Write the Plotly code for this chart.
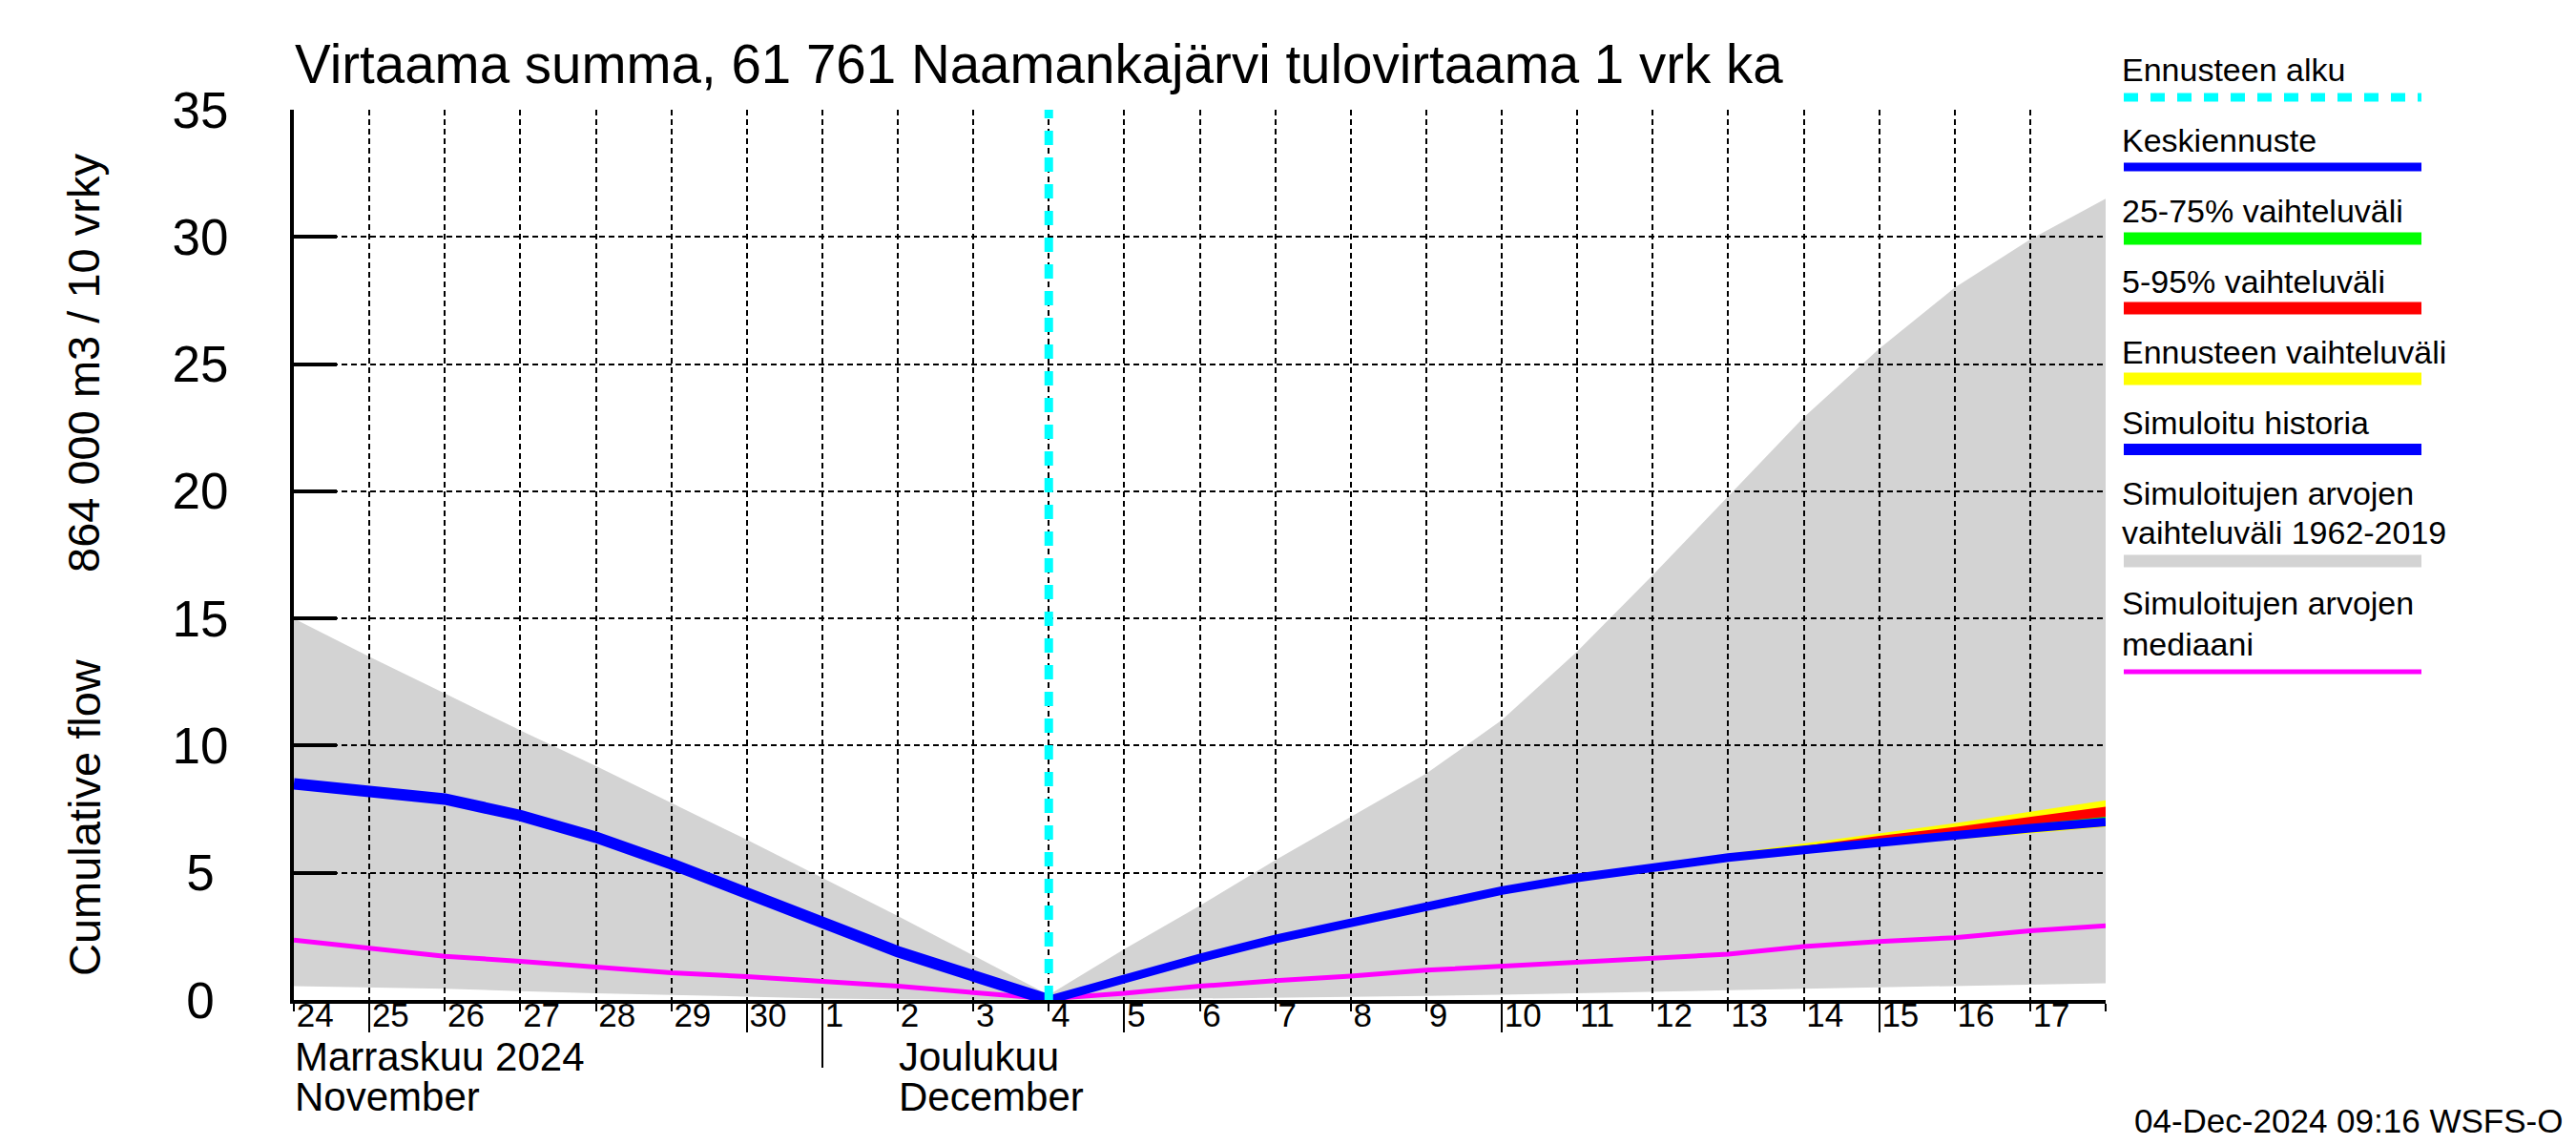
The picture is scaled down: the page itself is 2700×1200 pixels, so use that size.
import plotly.graph_objects as go
import pandas as pd

# ---------------- data ----------------
ALL_DAYS = pd.date_range("2024-11-24", "2024-12-18", freq="D")
HIST_DAYS = pd.date_range("2024-11-24", "2024-12-04", freq="D")
FC_DAYS = pd.date_range("2024-12-04", "2024-12-18", freq="D")
FORECAST_START = pd.Timestamp("2024-12-04")

# simulated range 1962-2019 (grey band) and median
SIM_MAX = [15.0, 13.5, 12.05, 10.6, 9.2, 7.75, 6.3, 4.8, 3.3, 1.75, 0.2,
           2.0, 3.7, 5.5, 7.2, 8.9, 11.0, 13.7, 16.7, 19.8, 22.9, 25.6, 28.0, 29.9, 31.5]
SIM_MIN = [0.54, 0.5, 0.44, 0.35, 0.26, 0.2, 0.13, 0.06, 0.03, 0.01, 0.0,
           0.02, 0.05, 0.08, 0.12, 0.16, 0.21, 0.26, 0.31, 0.38, 0.44, 0.49, 0.54, 0.59, 0.66]
SIM_MEDIAN = [2.35, 2.03, 1.72, 1.52, 1.29, 1.07, 0.92, 0.73, 0.54, 0.29, 0.05,
              0.26, 0.54, 0.76, 0.94, 1.17, 1.32, 1.48, 1.64, 1.8, 2.1, 2.3, 2.45, 2.72, 2.92]

# simulated history
HISTORY = [8.5, 8.25, 7.9, 7.25, 6.4, 5.35, 4.2, 3.0, 1.9, 0.95, 0.0]

# forecast
FC_MEAN = [0, 0.85, 1.65, 2.4, 3.05, 3.7, 4.3, 4.8, 5.2, 5.6, 5.9, 6.2, 6.5, 6.75, 7.0]
FC_MAX = [0, 0.9, 1.7, 2.45, 3.1, 3.75, 4.35, 4.85, 5.3, 5.75, 6.15, 6.55, 6.95, 7.4, 7.85]
FC_MIN = [0, 0.8, 1.6, 2.35, 3.0, 3.65, 4.25, 4.75, 5.15, 5.5, 5.8, 6.05, 6.3, 6.55, 6.8]
FC_P95 = [0, 0.88, 1.68, 2.43, 3.08, 3.73, 4.33, 4.83, 5.25, 5.68, 6.05, 6.45, 6.8, 7.2, 7.6]
FC_P05 = [0, 0.82, 1.62, 2.37, 3.02, 3.67, 4.27, 4.77, 5.17, 5.55, 5.85, 6.12, 6.4, 6.62, 6.85]
FC_P75 = [0, 0.86, 1.66, 2.41, 3.06, 3.71, 4.31, 4.81, 5.22, 5.63, 5.95, 6.28, 6.6, 6.9, 7.2]
FC_P25 = [0, 0.84, 1.64, 2.39, 3.04, 3.69, 4.29, 4.79, 5.18, 5.58, 5.87, 6.16, 6.45, 6.68, 6.92]

Y_TICKS = [0, 5, 10, 15, 20, 25, 30, 35]
Y_TICK_LABELS = ["0\u00a0", "5\u00a0", "10", "15", "20", "25", "30", "35"]
Y_RANGE = [0, 35]
DAY_LABELS = [str(d.day) for d in ALL_DAYS[:-1]] + [""]
LONG_TICK_DAYS = [d for d in ALL_DAYS if d.day % 5 == 0]
MONTH_START_DAYS = [d for d in ALL_DAYS if d.day == 1]

TITLE = "Virtaama summa, 61 761 Naamankajärvi tulovirtaama 1 vrk ka"
YTITLE_A = "Cumulative flow"
YTITLE_B = "864 000 m3 / 10 vrky"
MONTHS = [("Marraskuu 2024", "November", pd.Timestamp("2024-11-24")),
          ("Joulukuu", "December", pd.Timestamp("2024-12-02"))]
STAMP = "04-Dec-2024 09:16 WSFS-O"

LEGEND = [
    (["Ennusteen alku"], "#00ffff", 9, "15px,13px"),
    (["Keskiennuste"], "#0000ff", 9, "solid"),
    (["25-75% vaihteluväli"], "#00ff00", 13, "solid"),
    (["5-95% vaihteluväli"], "#ff0000", 13, "solid"),
    (["Ennusteen vaihteluväli"], "#ffff00", 13, "solid"),
    (["Simuloitu historia"], "#0000ff", 12, "solid"),
    (["Simuloitujen arvojen", "vaihteluväli 1962-2019"], "#d3d3d3", 13, "solid"),
    (["Simuloitujen arvojen", "mediaani"], "#ff00ff", 5, "solid"),
]
LEGEND_TEXT_BASELINES = [[77], [151], [225], [299], [373], [447], [521, 562], [636, 679]]
LEGEND_LINE_Y = [94, 167, 242, 315, 389, 463, 580, 696]

# ---------------- layout geometry ----------------
W, H = 2700, 1200
ML, MR, MT, MB = 300, 501, 107, 160
PW = W - ML - MR
PH = H - MT - MB
FONT = "Liberation Sans, Arial, Helvetica, sans-serif"


def px(xp):
    return (xp - ML) / PW


def py(yp):
    return (H - MB - yp) / PH


fig = go.Figure()

# grey band on base subplot (below grid)
fig.add_trace(go.Scatter(x=ALL_DAYS, y=SIM_MIN, mode="lines", line=dict(width=0, color="rgba(0,0,0,0)"),
                         xaxis="x", yaxis="y", showlegend=False, hoverinfo="skip"))
fig.add_trace(go.Scatter(x=ALL_DAYS, y=SIM_MAX, mode="lines", line=dict(width=0, color="rgba(0,0,0,0)"),
                         fill="tonexty", fillcolor="#d3d3d3",
                         xaxis="x", yaxis="y", showlegend=False, hoverinfo="skip"))


def band(lo, hi, color):
    fig.add_trace(go.Scatter(x=FC_DAYS, y=lo, mode="lines", line=dict(width=0, color="rgba(0,0,0,0)"),
                             xaxis="x2", yaxis="y2", showlegend=False, hoverinfo="skip"))
    fig.add_trace(go.Scatter(x=FC_DAYS, y=hi, mode="lines", line=dict(width=0, color="rgba(0,0,0,0)"),
                             fill="tonexty", fillcolor=color,
                             xaxis="x2", yaxis="y2", showlegend=False, hoverinfo="skip"))


band(FC_MIN, FC_MAX, "#ffff00")
band(FC_P05, FC_P95, "#ff0000")
band(FC_P25, FC_P75, "#00ff00")

fig.add_trace(go.Scatter(x=ALL_DAYS, y=SIM_MEDIAN, mode="lines", line=dict(width=5, color="#ff00ff"),
                         xaxis="x2", yaxis="y2", showlegend=False))
fig.add_trace(go.Scatter(x=HIST_DAYS, y=HISTORY, mode="lines", line=dict(width=12, color="#0000ff"),
                         xaxis="x2", yaxis="y2", showlegend=False))
fig.add_trace(go.Scatter(x=FC_DAYS, y=FC_MEAN, mode="lines", line=dict(width=9, color="#0000ff"),
                         xaxis="x2", yaxis="y2", showlegend=False))

# empty traces to register tick-only overlay axes
fig.add_trace(go.Scatter(x=[], y=[], xaxis="x3", yaxis="y2", showlegend=False, hoverinfo="skip"))
fig.add_trace(go.Scatter(x=[], y=[], xaxis="x4", yaxis="y2", showlegend=False, hoverinfo="skip"))

xr = [ALL_DAYS[0], ALL_DAYS[-1]]
grid = dict(showgrid=True, gridcolor="black", gridwidth=1.6, griddash="6px,4px")

fig.update_layout(
    width=W, height=H,
    margin=dict(l=ML, r=MR, t=MT, b=MB, autoexpand=False),
    paper_bgcolor="white", plot_bgcolor="rgba(0,0,0,0)",
    font=dict(family=FONT, color="black"),
    showlegend=False,
    xaxis=dict(type="date", range=xr, domain=[0, 1], anchor="y", visible=False, fixedrange=True),
    yaxis=dict(range=Y_RANGE, domain=[0, 1], anchor="x", visible=False, fixedrange=True),
    xaxis2=dict(type="date", range=xr, domain=[0, 1], anchor="y2",
                tickmode="array", tickvals=ALL_DAYS, ticktext=DAY_LABELS,
                ticks="outside", ticklen=8, tickwidth=1.5, tickcolor="black",
                ticklabelposition="outside right", ticklabelstandoff=-18,
                tickfont=dict(size=35, family=FONT, color="black"),
                showline=True, linecolor="black", linewidth=4, zeroline=False,
                fixedrange=True, **grid),
    yaxis2=dict(range=Y_RANGE, domain=[0, 1], anchor="x2",
                tickmode="array", tickvals=Y_TICKS, ticktext=Y_TICK_LABELS,
                ticks="inside", ticklen=45, tickwidth=4, tickcolor="black",
                tickfont=dict(size=53, family=FONT, color="black"),
                ticklabelstandoff=54,
                showline=True, linecolor="black", linewidth=4, zeroline=False,
                fixedrange=True, **grid),
    xaxis3=dict(type="date", range=xr, overlaying="x2", anchor="y2",
                tickmode="array", tickvals=LONG_TICK_DAYS, showticklabels=False,
                ticks="outside", ticklen=33, tickwidth=1.5, tickcolor="black",
                showgrid=False, showline=False, zeroline=False, fixedrange=True),
    xaxis4=dict(type="date", range=xr, overlaying="x2", anchor="y2",
                tickmode="array", tickvals=MONTH_START_DAYS, showticklabels=False,
                ticks="outside", ticklen=70, tickwidth=1.5, tickcolor="black",
                showgrid=False, showline=False, zeroline=False, fixedrange=True),
)

# forecast start line
fig.add_shape(type="line", xref="x2", yref="paper", x0=FORECAST_START, x1=FORECAST_START, y0=0, y1=1,
              line=dict(color="#00ffff", width=9, dash="15px,13px"), layer="above")

ann = []
# title
ann.append(dict(text=TITLE, xref="paper", yref="paper", x=px(299), y=py(60), xanchor="left", yanchor="middle",
                showarrow=False, font=dict(size=56.5, family=FONT, color="black")))
# y axis title (two parts)
ann.append(dict(text=YTITLE_A, xref="paper", yref="paper", x=px(80), y=py(849), xanchor="center", yanchor="middle",
                textangle=-90, showarrow=False, font=dict(size=47, family=FONT, color="black")))
ann.append(dict(text=YTITLE_B, xref="paper", yref="paper", x=px(80), y=py(373), xanchor="center", yanchor="middle",
                textangle=-90, showarrow=False, font=dict(size=47, family=FONT, color="black")))
# month labels
for fi, en, d in MONTHS:
    ann.append(dict(text=fi, xref="x2", yref="paper", x=d, y=py(1099), xanchor="left", yanchor="middle",
                    showarrow=False, borderpad=0, font=dict(size=42, family=FONT, color="black")))
    ann.append(dict(text=en, xref="x2", yref="paper", x=d, y=py(1141), xanchor="left", yanchor="middle",
                    showarrow=False, borderpad=0, font=dict(size=42, family=FONT, color="black")))
# timestamp
ann.append(dict(text=STAMP, xref="paper", yref="paper", x=px(2680), y=py(1166), xanchor="right", yanchor="middle",
                showarrow=False, font=dict(size=35, family=FONT, color="black")))

# legend
for (lines, color, width, dash), bases, ly in zip(LEGEND, LEGEND_TEXT_BASELINES, LEGEND_LINE_Y):
    for txt, b in zip(lines, bases):
        ann.append(dict(text=txt, xref="paper", yref="paper", x=px(2214), y=py(b - 12), xanchor="left",
                        yanchor="middle", showarrow=False, font=dict(size=34, family=FONT, color="black")))
    fig.add_shape(type="line", xref="paper", yref="paper", x0=px(2218), x1=px(2530), y0=py(ly), y1=py(ly),
                  line=dict(color=color, width=width, dash=dash))

fig.update_layout(annotations=ann)

fig.write_html("out.html", config={"displayModeBar": False})
